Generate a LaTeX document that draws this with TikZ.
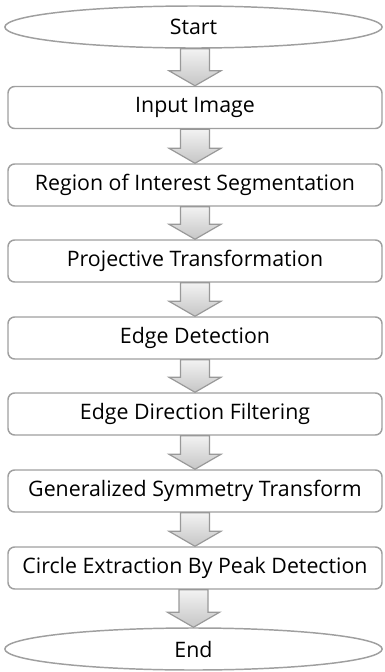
\documentclass[tikz,border=0pt]{standalone}
\usepackage{fontspec}
\setmainfont{Open Sans}
\usepackage{tikz}
\usetikzlibrary{shapes.geometric, calc}

\begin{document}
\begin{tikzpicture}[x=0.75pt, y=-0.75pt,
    stepbox/.style={draw=gray!75, line width=1.1pt, rounded corners=5pt, fill=white,
      minimum width=280.5pt, minimum height=31.5pt, inner sep=0pt,
      font=\fontsize{16}{19}\selectfont},
    endbox/.style={ellipse, draw=gray!75, line width=1.1pt, fill=white,
      minimum width=283pt, minimum height=31.5pt, inner sep=0pt,
      font=\fontsize{16}{19}\selectfont},
    fatarrow/.style={draw=gray!80, line width=0.9pt, top color=gray!10, bottom color=gray!45}]
      \useasboundingbox (0,0) rectangle (385,672);
      \node[endbox] (start) at (193.5,27) {Start};
      \node[stepbox] (input) at (195,107.5) {Input Image};
      \node[stepbox] (roi) at (195,185) {Region of Interest Segmentation};
      \node[stepbox] (proj) at (195,261) {Projective Transformation};
      \node[stepbox] (edge) at (195,338) {Edge Detection};
      \node[stepbox] (dirfilt) at (195,414) {Edge Direction Filtering};
      \node[stepbox] (gst) at (195,491) {Generalized Symmetry Transform};
      \node[stepbox] (circ) at (195,568) {Circle Extraction By Peak Detection};
      \node[endbox] (end) at (193.5,649) {End};
      \foreach \a/\b in {start/input, input/roi, roi/proj, proj/edge, edge/dirfilt,
                         dirfilt/gst, gst/circ, circ/end}
        \draw[fatarrow] ($(\b.north |- \a.south)+(-14.5,0)$) -- ($(\b.north)+(-14.5,-15)$)
          -- ($(\b.north)+(-26,-15)$) -- (\b.north) -- ($(\b.north)+(26,-15)$)
          -- ($(\b.north)+(14.5,-15)$) -- ($(\b.north |- \a.south)+(14.5,0)$) -- cycle;
    \end{tikzpicture}
\end{document}
